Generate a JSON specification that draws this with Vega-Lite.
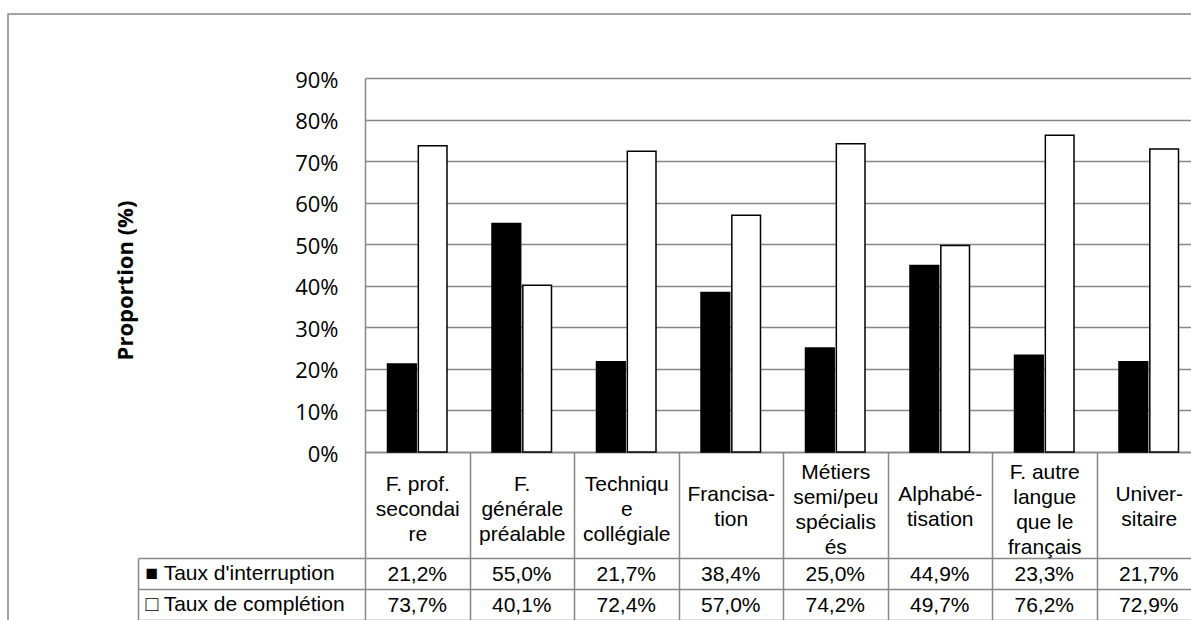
{
  "$schema": "https://vega.github.io/schema/vega-lite/v6.json",
  "autosize": {"type": "none"},
  "padding": {"left": 8, "top": 14, "right": -7, "bottom": -14},
  "width": 1190,
  "height": 620,
  "background": "white",
  "view": {"stroke": "#878787", "strokeWidth": 1.5, "fill": "white"},
  "config": {
    "locale": {"number": {"decimal": ",", "thousands": " ", "grouping": [3], "currency": ["", " €"]}}
  },
  "data": {
    "values": [
      {"categorie": "F. prof. secondaire", "serie": "Taux d'interruption", "valeur": 0.212},
      {"categorie": "F. prof. secondaire", "serie": "Taux de complétion", "valeur": 0.737},
      {"categorie": "F. générale préalable", "serie": "Taux d'interruption", "valeur": 0.550},
      {"categorie": "F. générale préalable", "serie": "Taux de complétion", "valeur": 0.401},
      {"categorie": "Technique collégiale", "serie": "Taux d'interruption", "valeur": 0.217},
      {"categorie": "Technique collégiale", "serie": "Taux de complétion", "valeur": 0.724},
      {"categorie": "Francisation", "serie": "Taux d'interruption", "valeur": 0.384},
      {"categorie": "Francisation", "serie": "Taux de complétion", "valeur": 0.570},
      {"categorie": "Métiers semi/peu spécialisés", "serie": "Taux d'interruption", "valeur": 0.250},
      {"categorie": "Métiers semi/peu spécialisés", "serie": "Taux de complétion", "valeur": 0.742},
      {"categorie": "Alphabétisation", "serie": "Taux d'interruption", "valeur": 0.449},
      {"categorie": "Alphabétisation", "serie": "Taux de complétion", "valeur": 0.497},
      {"categorie": "F. autre langue que le français", "serie": "Taux d'interruption", "valeur": 0.233},
      {"categorie": "F. autre langue que le français", "serie": "Taux de complétion", "valeur": 0.762},
      {"categorie": "Universitaire", "serie": "Taux d'interruption", "valeur": 0.217},
      {"categorie": "Universitaire", "serie": "Taux de complétion", "valeur": 0.729}
    ]
  },
  "layer": [
    {
      "mark": {"type": "bar", "stroke": "#000000", "strokeWidth": 1.5},
      "encoding": {
        "x": {
          "field": "categorie", "type": "nominal",
          "sort": ["F. prof. secondaire", "F. générale préalable", "Technique collégiale", "Francisation", "Métiers semi/peu spécialisés", "Alphabétisation", "F. autre langue que le français", "Universitaire"],
          "scale": {"type": "band", "range": [357, 1193], "paddingInner": 0, "paddingOuter": 0},
          "axis": {
            "orient": "bottom", "offset": -182, "title": null,
            "labelExpr": "datum.value == 'F. prof. secondaire' ? ['F. prof.', 'secondai', 're'] : datum.value == 'F. générale préalable' ? ['F.', 'générale', 'préalable'] : datum.value == 'Technique collégiale' ? ['Techniqu', 'e', 'collégiale'] : datum.value == 'Francisation' ? ['Francisa-', 'tion'] : datum.value == 'Métiers semi/peu spécialisés' ? ['Métiers', 'semi/peu', 'spécialis', 'és'] : datum.value == 'Alphabétisation' ? ['Alphabé-', 'tisation'] : datum.value == 'F. autre langue que le français' ? ['F. autre', 'langue', 'que le', 'français'] : datum.value == 'Universitaire' ? ['Univer-', 'sitaire'] : ''",
            "labelAngle": 0, "labelFont": "Liberation Sans", "labelFontSize": 21, "labelColor": "#000000",
            "labelLineHeight": 25, "labelBaseline": "middle",
            "labelPadding": {
              "condition": [
                {"test": "datum.value == 'Francisation' || datum.value == 'Alphabétisation' || datum.value == 'Universitaire'", "value": -64},
                {"test": "datum.value == 'Métiers semi/peu spécialisés' || datum.value == 'F. autre langue que le français'", "value": -86}
              ],
              "value": -74
            },
            "labelOverlap": false, "labelBound": false, "labelFlush": false, "labelLimit": 0,
            "ticks": true, "tickBand": "extent", "tickSize": 106, "tickColor": "#878787", "tickWidth": 1.5,
            "domain": true, "domainColor": "#878787", "domainWidth": 1.5, "grid": false
          }
        },
        "xOffset": {
          "field": "serie", "type": "nominal",
          "sort": ["Taux d'interruption", "Taux de complétion"],
          "scale": {"paddingInner": 0.07, "paddingOuter": 0.73}
        },
        "y": {
          "field": "valeur", "type": "quantitative",
          "scale": {"domain": [0, 0.9], "range": [438, 64], "nice": false, "zero": true},
          "axis": {
            "orient": "left", "offset": -357,
            "values": [0, 0.1, 0.2, 0.3, 0.4, 0.5, 0.6, 0.7, 0.8, 0.9],
            "format": ".0%",
            "labelFont": "Open Sans", "labelFontSize": 22, "labelColor": "#000000",
            "labelPadding": 27, "labelOffset": 2, "labelBaseline": "middle",
            "ticks": false, "domain": true, "domainColor": "#878787", "domainWidth": 1.5,
            "grid": true, "gridColor": "#878787", "gridWidth": 1.5,
            "title": "Proportion (%)", "titleFont": "Open Sans", "titleFontSize": 22, "titleFontWeight": "bold",
            "titleColor": "#000000", "titleX": -240, "titleY": 266, "titleAngle": 270,
            "titleAlign": "center", "titleBaseline": "middle"
          }
        },
        "color": {
          "field": "serie", "type": "nominal",
          "scale": {"domain": ["Taux d'interruption", "Taux de complétion"], "range": ["#000000", "#ffffff"]},
          "legend": null
        }
      }
    },
    {
      "mark": {"type": "text", "font": "Liberation Sans", "fontSize": 21, "color": "#000000", "align": "center", "baseline": "middle", "dy": 1},
      "encoding": {
        "x": {
          "field": "categorie", "type": "nominal",
          "sort": ["F. prof. secondaire", "F. générale préalable", "Technique collégiale", "Francisation", "Métiers semi/peu spécialisés", "Alphabétisation", "F. autre langue que le français", "Universitaire"],
          "scale": {"type": "band", "range": [357, 1193], "paddingInner": 0, "paddingOuter": 0},
          "axis": {
            "orient": "top", "title": null, "labels": false, "ticks": false, "domain": false,
            "grid": true, "tickBand": "extent", "gridColor": "#878787", "gridWidth": 1.5
          }
        },
        "y": {
          "field": "serie", "type": "nominal",
          "sort": ["Taux d'interruption", "Taux de complétion"],
          "scale": {"type": "band", "range": [544, 606], "paddingInner": 0, "paddingOuter": 0},
          "axis": {
            "orient": "left", "offset": -130, "title": null,
            "grid": true, "tickBand": "extent", "gridColor": "#878787", "gridWidth": 1.5,
            "ticks": true, "tickSize": -227, "tickColor": "#878787", "tickWidth": 1.5,
            "domain": true, "domainColor": "#878787", "domainWidth": 1.5,
            "labelAlign": "left", "labelPadding": 220, "labelBaseline": "middle",
            "labelFont": "Liberation Sans", "labelFontSize": 21, "labelColor": "#000000", "labelLimit": 0,
            "labelExpr": "datum.value == null ? '' : ((datum.value == \"Taux d'interruption\" ? '\u25a0 ' : '\u25a1 ') + datum.value)"
          }
        },
        "text": {"field": "valeur", "type": "quantitative", "format": ".1%"}
      }
    }
  ],
  "resolve": {"scale": {"x": "independent", "y": "independent"}}
}
